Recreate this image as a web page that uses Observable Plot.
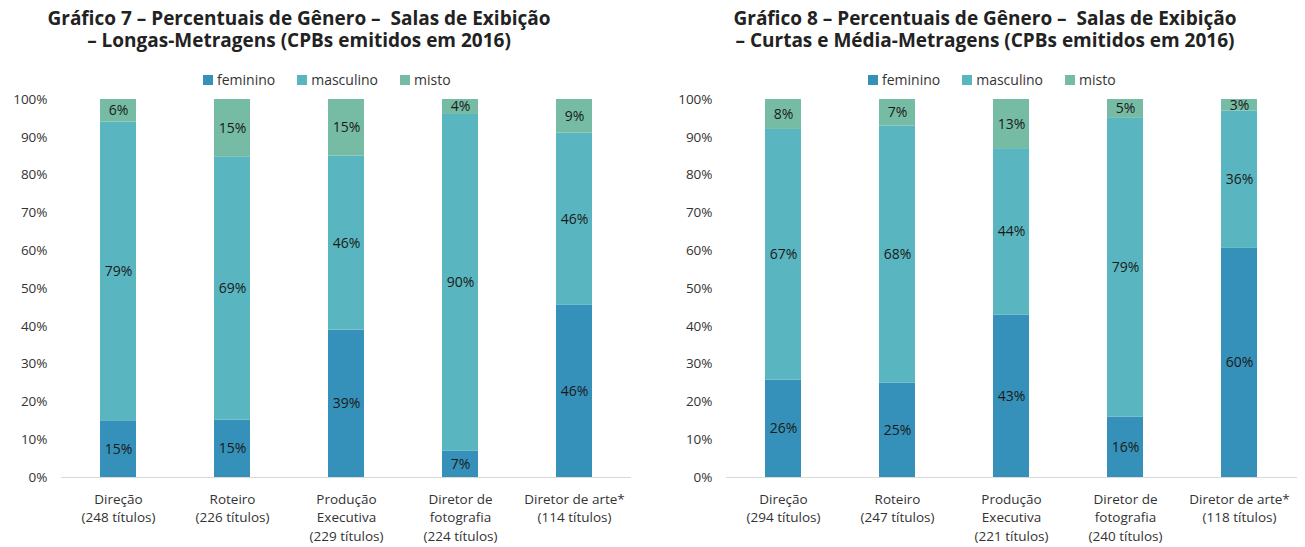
<!DOCTYPE html>
<html>
<head>
<meta charset="utf-8">
<script src="https://cdn.jsdelivr.net/npm/d3@7"></script>
<script src="https://cdn.jsdelivr.net/npm/@observablehq/plot@0.6"></script>
<style>
  body { margin: 0; background: #fff; font-family: "Open Sans", sans-serif; }
  #root { position: relative; width: 1305px; height: 547px; overflow: hidden; }
  .title { position: absolute; text-align: center; font-weight: 700; font-size: 19px; line-height: 22px; color: #222; white-space: pre; }
  .legend { position: absolute; font-size: 14px; line-height: 19px; color: #333; display: flex; align-items: center; white-space: nowrap; }
  .legend span.sw { display: inline-block; width: 10px; height: 10px; margin-right: 4px; }
  .legend span.item { display: inline-flex; align-items: center; margin-right: 22px; }
  .chart { position: absolute; }
</style>
</head>
<body>
<div id="root"></div>
<script>
const genders = ["feminino", "masculino", "misto"];
const colors = ["#3591b9", "#59b6c0", "#76bca5"];

const titles7 = ["Gráfico 7 – Percentuais de Gênero –  Salas de Exibição", "– Longas-Metragens (CPBs emitidos em 2016)"];
const cats7 = ["Direção\n(248 títulos)", "Roteiro\n(226 títulos)", "Produção\nExecutiva\n(229 títulos)", "Diretor de\nfotografia\n(224 títulos)", "Diretor de arte*\n(114 títulos)"];
const fem7 = [15, 15, 39, 7, 46];
const masc7 = [79, 69, 46, 90, 46];
const misto7 = [6, 15, 15, 4, 9];

const titles8 = ["Gráfico 8 – Percentuais de Gênero –  Salas de Exibição", "– Curtas e Média-Metragens (CPBs emitidos em 2016)"];
const cats8 = ["Direção\n(294 títulos)", "Roteiro\n(247 títulos)", "Produção\nExecutiva\n(221 títulos)", "Diretor de\nfotografia\n(240 títulos)", "Diretor de arte*\n(118 títulos)"];
const fem8 = [26, 25, 43, 16, 60];
const masc8 = [67, 68, 44, 79, 36];
const misto8 = [8, 7, 13, 5, 3];

const yTicks = [0, 0.1, 0.2, 0.3, 0.4, 0.5, 0.6, 0.7, 0.8, 0.9, 1];

const root = document.getElementById("root");

function build(cfg) {
  const t = document.createElement("div");
  t.className = "title";
  t.style.left = (cfg.titleCx - 300) + "px";
  t.style.width = "600px";
  t.style.top = "7px";
  t.textContent = cfg.titles.join("\n");
  root.appendChild(t);

  const lg = document.createElement("div");
  lg.className = "legend";
  lg.style.left = cfg.legendX + "px";
  lg.style.top = "70px";
  genders.forEach((g, i) => {
    const it = document.createElement("span");
    it.className = "item";
    const sw = document.createElement("span");
    sw.className = "sw";
    sw.style.background = colors[i];
    it.appendChild(sw);
    it.appendChild(document.createTextNode(g));
    lg.appendChild(it);
  });
  root.appendChild(lg);

  const data = [];
  cfg.cats.forEach((c, i) => {
    data.push({cat: c, gender: "feminino", value: cfg.fem[i]});
    data.push({cat: c, gender: "masculino", value: cfg.masc[i]});
    data.push({cat: c, gender: "misto", value: cfg.misto[i]});
  });

  const plot = Plot.plot({
    width: cfg.width,
    height: 459,
    marginLeft: cfg.marginLeft,
    marginRight: cfg.marginRight,
    marginTop: 11,
    marginBottom: 70,
    style: {fontFamily: "Open Sans, sans-serif", fontSize: "13.5px", color: "#333", background: "transparent"},
    x: {domain: cfg.cats, paddingInner: 0.684, paddingOuter: 0.342, label: null},
    y: {domain: [0, 1], label: null},
    color: {domain: genders, range: colors},
    marks: [
      Plot.axisY({ticks: yTicks, tickFormat: d => Math.round(d * 100) + "%", tickSize: 0, tickPadding: 14, fontSize: 13.5, fill: "#333"}),
      Plot.axisX({tickSize: 0, tickPadding: 13, lineHeight: 1.37, fontSize: 13.5, fill: "#333"}),
      Plot.barY(data, Plot.stackY({x: "cat", y: "value", fill: "gender", offset: "normalize"})),
      Plot.ruleY([0], {stroke: "#d9d9d9", strokeWidth: 1}),
      Plot.text(data, Plot.stackY({x: "cat", y: "value", text: d => d.value + "%", offset: "normalize", fill: "#1a1a1a", fontSize: 14}))
    ]
  });
  plot.classList.add("chart");
  plot.style.left = cfg.left + "px";
  plot.style.top = "88px";
  root.appendChild(plot);
}

build({titles: titles7, cats: cats7, fem: fem7, masc: masc7, misto: misto7,
  left: 0, width: 655, marginLeft: 61, marginRight: 24, titleCx: 299, legendX: 203});
build({titles: titles8, cats: cats8, fem: fem8, masc: masc8, misto: misto8,
  left: 660, width: 645, marginLeft: 66, marginRight: 8, titleCx: 985, legendX: 868});
</script>
</body>
</html>
